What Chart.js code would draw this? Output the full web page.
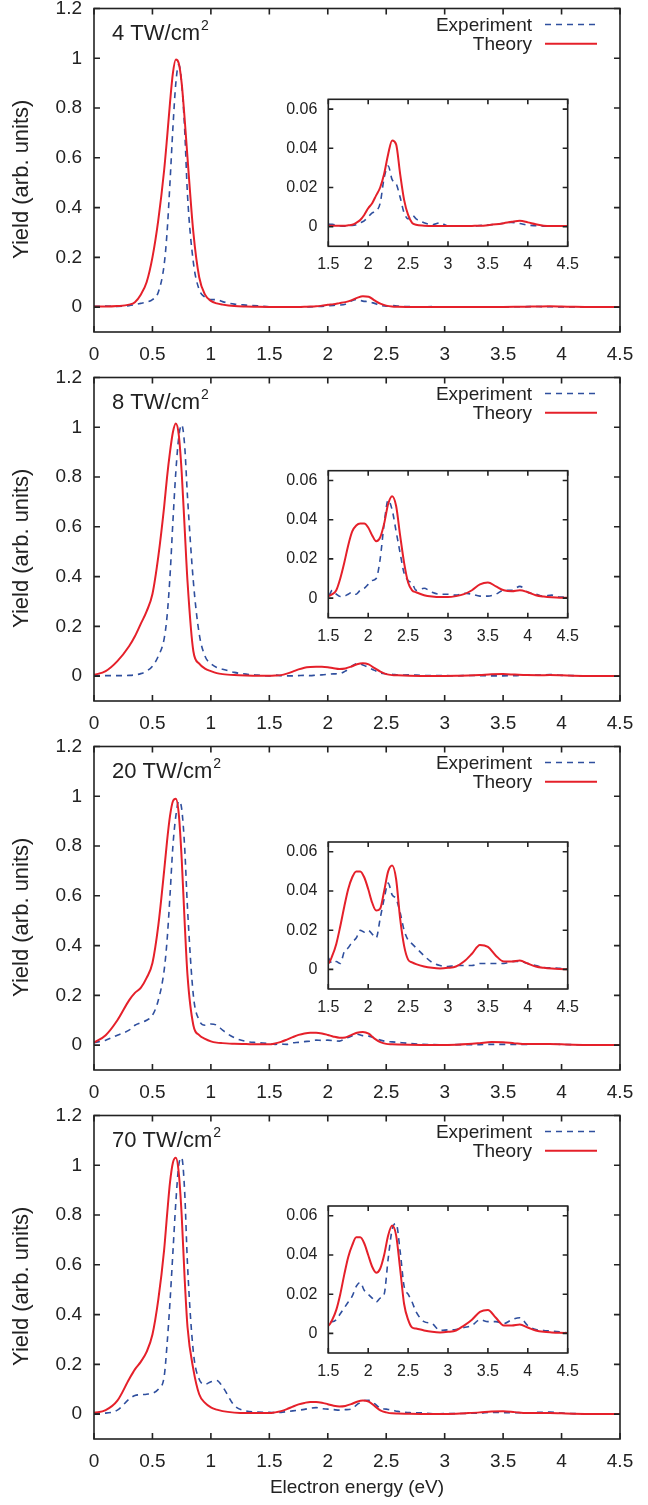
<!DOCTYPE html>
<html>
<head>
<meta charset="utf-8">
<script src="https://cdn.jsdelivr.net/npm/chart.js@4.4.0/dist/chart.umd.min.js"></script>
<style>
  html, body { margin: 0; padding: 0; background: #fff; }
  #wrap { position: relative; width: 648px; height: 1505px; overflow: hidden; background: #fff; }
  #wrap canvas { position: absolute; }
</style>
</head>
<body>
<div id="wrap"></div>
<script>
// ---- data ----
var ENERGY = [
  0, 0.1, 0.2, 0.3, 0.35, 0.4, 0.45, 0.5, 0.55, 0.6,
  0.625, 0.65, 0.675, 0.7, 0.725, 0.75, 0.775, 0.8,
  0.85, 0.9, 0.95, 1.0, 1.05, 1.1,
  1.2, 1.3, 1.4,
  1.5, 1.55, 1.6, 1.65, 1.7, 1.75, 1.8, 1.85, 1.9, 1.95, 2.0, 2.05, 2.1, 2.15, 2.2, 2.25, 2.3, 2.35, 2.4, 2.45, 2.5, 2.55, 2.6,
  2.7, 2.8, 2.9, 3.0, 3.1, 3.2, 3.3, 3.4, 3.5, 3.6, 3.7, 3.8, 3.9, 4.0, 4.1, 4.2, 4.3, 4.4, 4.5
];

var THEORY_4 = [
  0.002, 0.002, 0.004, 0.01, 0.02, 0.05, 0.1, 0.2, 0.35, 0.55,
  0.68, 0.82, 0.94, 0.995, 0.98, 0.9, 0.76, 0.6,
  0.3, 0.12, 0.05, 0.025, 0.015, 0.01,
  0.004, 0.002, 0.001,
  0.0005, 0.0005, 0.0005, 0.0005, 0.0005, 0.0007, 0.001, 0.002, 0.0034, 0.006, 0.0094, 0.012, 0.016, 0.02, 0.027, 0.037, 0.044, 0.042, 0.027, 0.0137, 0.006, 0.002, 0.001,
  0.0005, 0.0003, 0.0003, 0.0003, 0.0003, 0.0003, 0.0004, 0.0005, 0.0008, 0.0012, 0.0018, 0.0025, 0.003, 0.0022, 0.0012, 0.0005, 0.0004, 0.0004, 0.0004
];
var EXP_4 = [
  0.003, 0.004, 0.003, 0.006, 0.01, 0.015, 0.02, 0.03, 0.06, 0.17,
  0.3, 0.5, 0.72, 0.9, 0.975, 0.9, 0.72, 0.45,
  0.18, 0.07, 0.04, 0.03, 0.03, 0.022,
  0.012, 0.008, 0.005,
  0.0015, 0.0012, 0.0008, 0.0004, 0.0003, 0.0008, 0.0006, 0.001, 0.002, 0.003, 0.005, 0.007, 0.008, 0.012, 0.025, 0.031, 0.024, 0.022, 0.015, 0.007, 0.004, 0.006, 0.004,
  0.002, 0.001, 0.002, 0.0003, 0.0002, 0.0002, 0.0003, 0.0006, 0.0009, 0.0012, 0.0018, 0.0022, 0.0016, 0.0008, 0.0005, 0.0003, 0.0002, 0.0002, 0.0002
];

var THEORY_8 = [
  0.005, 0.02, 0.06, 0.12, 0.16, 0.21, 0.26, 0.33, 0.48, 0.68,
  0.8, 0.9, 0.98, 1.015, 0.97, 0.82, 0.6, 0.38,
  0.1, 0.05, 0.03, 0.02, 0.012, 0.008,
  0.004, 0.002, 0.001,
  0.001, 0.002, 0.004, 0.01, 0.018, 0.027, 0.034, 0.037, 0.038, 0.038, 0.036, 0.032, 0.029, 0.031, 0.038, 0.048, 0.052, 0.047, 0.032, 0.018, 0.008, 0.004, 0.003,
  0.0015, 0.0008, 0.0005, 0.0005, 0.001, 0.002, 0.004, 0.007, 0.008, 0.006, 0.004, 0.0035, 0.004, 0.003, 0.0015, 0.0008, 0.0004, 0.0002, 0.0002
];
var EXP_8 = [
  0.003, 0.002, 0.002, 0.003, 0.005, 0.01, 0.02, 0.04, 0.08, 0.15,
  0.24, 0.4, 0.62, 0.82, 0.96, 1.01, 0.93, 0.72,
  0.38, 0.17, 0.08, 0.05, 0.035, 0.028,
  0.015, 0.008, 0.004,
  0.001, 0.004, 0.002, 0.0008, 0.001, 0.002, 0.003, 0.002, 0.004, 0.005, 0.007, 0.009, 0.01, 0.02, 0.038, 0.05, 0.045, 0.034, 0.023, 0.0127, 0.009, 0.0076, 0.004,
  0.005, 0.003, 0.002, 0.002, 0.0015, 0.0025, 0.002, 0.001, 0.001, 0.002, 0.004, 0.004, 0.006, 0.003, 0.002, 0.001, 0.0015, 0.0005, 0.0005
];

var THEORY_20 = [
  0.01, 0.04, 0.1, 0.18, 0.21, 0.23, 0.27, 0.33, 0.48, 0.7,
  0.82, 0.92, 0.98, 0.99, 0.93, 0.75, 0.5, 0.28,
  0.08, 0.04, 0.025, 0.015, 0.01, 0.008,
  0.005, 0.004, 0.003,
  0.003, 0.007, 0.013, 0.022, 0.032, 0.041, 0.047, 0.05, 0.05, 0.047, 0.041, 0.034, 0.03, 0.031, 0.04, 0.05, 0.053, 0.046, 0.026, 0.012, 0.005, 0.0036, 0.0027,
  0.0015, 0.0008, 0.0005, 0.0008, 0.0015, 0.004, 0.008, 0.0125, 0.0115, 0.007, 0.004, 0.004, 0.0045, 0.003, 0.0015, 0.0008, 0.0004, 0.0002, 0.0001
];
var EXP_20 = [
  0.01, 0.02, 0.04, 0.06, 0.08, 0.09, 0.1, 0.12, 0.18, 0.3,
  0.42, 0.6, 0.8, 0.92, 0.98, 0.95, 0.8, 0.55,
  0.2, 0.1, 0.08, 0.085, 0.08, 0.06,
  0.03, 0.015, 0.01,
  0.006, 0.003, 0.004, 0.003, 0.009, 0.011, 0.014, 0.016, 0.02, 0.019, 0.02, 0.018, 0.016, 0.026, 0.036, 0.044, 0.038, 0.036, 0.029, 0.02, 0.015, 0.013, 0.011,
  0.007, 0.0036, 0.002, 0.0015, 0.002, 0.002, 0.002, 0.003, 0.003, 0.003, 0.003, 0.004, 0.004, 0.003, 0.002, 0.001, 0.0008, 0.0005, 0.0003
];

var THEORY_70 = [
  0.005, 0.016, 0.054, 0.14, 0.18, 0.21, 0.25, 0.32, 0.46, 0.66,
  0.8, 0.93, 1.01, 1.03, 0.97, 0.8, 0.55, 0.35,
  0.18, 0.08, 0.045, 0.027, 0.018, 0.012,
  0.006, 0.004, 0.004,
  0.004, 0.007, 0.012, 0.02, 0.03, 0.039, 0.045, 0.049, 0.049, 0.046, 0.04, 0.034, 0.031, 0.033, 0.04, 0.05, 0.055, 0.05, 0.033, 0.015, 0.007, 0.003, 0.0025,
  0.0015, 0.0008, 0.0005, 0.0008, 0.0015, 0.004, 0.007, 0.011, 0.012, 0.008, 0.004, 0.004, 0.0045, 0.003, 0.0015, 0.0008, 0.0005, 0.0003, 0.0002
];
var EXP_70 = [
  0.003, 0.004, 0.016, 0.06, 0.075, 0.078, 0.08, 0.084, 0.1, 0.15,
  0.28, 0.45, 0.65, 0.85, 1.0, 1.03, 0.9, 0.6,
  0.25, 0.14, 0.12, 0.13, 0.135, 0.11,
  0.035, 0.013, 0.008,
  0.007, 0.006, 0.007, 0.01, 0.013, 0.016, 0.019, 0.024, 0.026, 0.022, 0.02, 0.018, 0.016, 0.018, 0.02, 0.038, 0.053, 0.056, 0.042, 0.024, 0.02, 0.016, 0.011,
  0.006, 0.005, 0.0015, 0.0018, 0.002, 0.003, 0.004, 0.007, 0.006, 0.006, 0.005, 0.007, 0.008, 0.004, 0.002, 0.0015, 0.0012, 0.0008, 0.0003
];

var INTENSITIES = ['4', '8', '20', '70'];
var EXPERIMENT = [EXP_4, EXP_8, EXP_20, EXP_70];
var THEORY = [THEORY_4, THEORY_8, THEORY_20, THEORY_70];

var MAIN_X_TICKS = [0, 0.5, 1, 1.5, 2, 2.5, 3, 3.5, 4, 4.5];
var MAIN_X_LABELS = ['0', '0.5', '1', '1.5', '2', '2.5', '3', '3.5', '4', '4.5'];
var MAIN_Y_TICKS = [0, 0.2, 0.4, 0.6, 0.8, 1, 1.2];
var MAIN_Y_LABELS = ['0', '0.2', '0.4', '0.6', '0.8', '1', '1.2'];
var INSET_X_TICKS = [1.5, 2, 2.5, 3, 3.5, 4, 4.5];
var INSET_X_LABELS = ['1.5', '2', '2.5', '3', '3.5', '4', '4.5'];
var INSET_Y_TICKS = [0, 0.02, 0.04, 0.06];
var INSET_Y_LABELS = ['0', '0.02', '0.04', '0.06'];

// ---- layout ----
var RED = '#e5202a';
var BLUE = '#2f4f9e';
var INK = '#222';
var FONT = '"Liberation Sans", Arial, Helvetica, sans-serif';

var PANEL_TOP = [8.5, 377.5, 746.5, 1115.5];
var PLOT_L = 94, PLOT_R = 620, PLOT_H = 323.5;
var INSET_TOP = [99.3, 470.7, 842, 1206];
var INSET_L = 328.3, INSET_R = 567.7, INSET_H = 147;

Chart.defaults.font.family = FONT;
Chart.defaults.color = INK;

var wrap = document.getElementById('wrap');

function addCanvas(left, top, w, h) {
  var c = document.createElement('canvas');
  c.width = w; c.height = h;
  c.style.left = left + 'px'; c.style.top = top + 'px';
  c.style.width = w + 'px'; c.style.height = h + 'px';
  wrap.appendChild(c);
  return c;
}

function toPoints(ys) {
  return ENERGY.map(function (x, i) { return { x: x, y: ys[i] }; });
}

function seriesSets(exp, th) {
  return [
    { label: 'Experiment', data: toPoints(exp), borderColor: BLUE, borderWidth: 1.6, borderDash: [6, 5],
      pointRadius: 0, cubicInterpolationMode: 'monotone', fill: false, order: 1 },
    { label: 'Theory', data: toPoints(th), borderColor: RED, borderWidth: 2, pointRadius: 0,
      cubicInterpolationMode: 'monotone', fill: false, order: 0 }
  ];
}

function fixedTicks(values) {
  return function (s) { s.ticks = values.map(function (v) { return { value: v }; }); };
}

// gnuplot-like frame with inward ticks on all four sides
var frameTicks = {
  id: 'frameTicks',
  afterDatasetsDraw: function (chart, args, opts) {
    var ctx = chart.ctx, a = chart.chartArea, xs = chart.scales.x, ys = chart.scales.y, len = opts.len;
    ctx.save();
    ctx.strokeStyle = INK;
    ctx.lineWidth = opts.width;
    ctx.beginPath();
    xs.ticks.forEach(function (t) {
      var px = xs.getPixelForValue(t.value);
      ctx.moveTo(px, a.bottom); ctx.lineTo(px, a.bottom - len);
      ctx.moveTo(px, a.top); ctx.lineTo(px, a.top + len);
    });
    ys.ticks.forEach(function (t) {
      var py = ys.getPixelForValue(t.value);
      ctx.moveTo(a.left, py); ctx.lineTo(a.left + len, py);
      ctx.moveTo(a.right, py); ctx.lineTo(a.right - len, py);
    });
    ctx.stroke();
    ctx.strokeRect(a.left, a.top, a.right - a.left, a.bottom - a.top);
    ctx.restore();
  }
};

// key, intensity note and the rotated y title
var panelNotes = {
  id: 'panelNotes',
  afterDraw: function (chart, args, opts) {
    var ctx = chart.ctx, a = chart.chartArea;
    ctx.save();
    ctx.fillStyle = INK;
    ctx.font = '19px ' + FONT;
    ctx.textAlign = 'right';
    ctx.textBaseline = 'middle';
    chart.data.datasets.forEach(function (ds, i) {
      var y = a.top + 16 + i * 19.3;
      ctx.fillText(ds.label, a.left + 438, y + 1);
      ctx.strokeStyle = ds.borderColor;
      ctx.lineWidth = ds.borderWidth;
      ctx.setLineDash(ds.borderDash || []);
      ctx.beginPath();
      ctx.moveTo(a.left + 451, y); ctx.lineTo(a.left + 503, y);
      ctx.stroke();
    });
    ctx.setLineDash([]);
    ctx.textAlign = 'left';
    ctx.textBaseline = 'alphabetic';
    ctx.font = '22px ' + FONT;
    var base = a.top + 31, txt = opts.intensity + ' TW/cm';
    ctx.fillText(txt, a.left + 18, base);
    var w = ctx.measureText(txt).width;
    ctx.font = '14px ' + FONT;
    ctx.fillText('2', a.left + 18 + w + 1, base - 10);

    ctx.translate(22, (a.top + a.bottom) / 2 + 9);
    ctx.rotate(-Math.PI / 2);
    ctx.textAlign = 'center';
    ctx.textBaseline = 'middle';
    ctx.font = '22px ' + FONT;
    ctx.fillText(opts.yTitle, 0, 0);
    ctx.restore();
  }
};

function buildMain(p) {
  var T = PANEL_TOP[p];
  var cTop = Math.floor(T) - 26;
  var padTop = T - cTop;
  var last = p === 3;
  var cH = last ? 1505 - cTop : 382;
  var xAxisH = cH - padTop - PLOT_H;
  var canvas = addCanvas(0, cTop, 648, cH);
  return new Chart(canvas, {
    type: 'line',
    data: { datasets: seriesSets(EXPERIMENT[p], THEORY[p]) },
    plugins: [frameTicks, panelNotes],
    options: {
      responsive: false,
      animation: false,
      events: [],
      layout: { padding: { top: padTop, right: 648 - PLOT_R, left: 0, bottom: 0 } },
      plugins: {
        legend: { display: false },
        tooltip: { enabled: false },
        frameTicks: { len: 6, width: 1.6 },
        panelNotes: { intensity: INTENSITIES[p], yTitle: 'Yield (arb. units)' }
      },
      scales: {
        x: {
          type: 'linear', min: 0, max: 4.5,
          grid: { display: false, drawTicks: false }, border: { display: false },
          afterBuildTicks: fixedTicks(MAIN_X_TICKS),
          afterFit: function (s) { s.height = xAxisH; },
          ticks: {
            padding: 11, autoSkip: false, maxRotation: 0, font: { size: 19 },
            callback: function (v, i) { return MAIN_X_LABELS[i]; }
          },
          title: {
            display: last, text: 'Electron energy (eV)', font: { size: 19 },
            padding: { top: 0, bottom: 5.6 }
          }
        },
        y: {
          type: 'linear', min: -0.1, max: 1.2,
          grid: { display: false, drawTicks: false }, border: { display: false },
          afterBuildTicks: fixedTicks(MAIN_Y_TICKS),
          afterFit: function (s) { s.width = PLOT_L; },
          ticks: {
            padding: 12, font: { size: 19 },
            callback: function (v, i) { return MAIN_Y_LABELS[i]; }
          }
        }
      }
    }
  });
}

function buildInset(p) {
  var T = INSET_TOP[p];
  var cTop = Math.floor(T) - 24;
  var padTop = T - cTop;
  var cLeft = Math.floor(INSET_L) - 60;
  var yAxisW = INSET_L - cLeft;
  var cW = Math.ceil(INSET_R) + 26 - cLeft;
  var cH = 210;
  var xAxisH = cH - padTop - INSET_H;
  var canvas = addCanvas(cLeft, cTop, cW, cH);
  return new Chart(canvas, {
    type: 'line',
    data: { datasets: seriesSets(EXPERIMENT[p], THEORY[p]) },
    plugins: [frameTicks],
    options: {
      responsive: false,
      animation: false,
      events: [],
      layout: { padding: { top: padTop, right: cW - (INSET_R - cLeft), left: 0, bottom: 0 } },
      plugins: {
        legend: { display: false },
        tooltip: { enabled: false },
        frameTicks: { len: 5, width: 1.6 }
      },
      scales: {
        x: {
          type: 'linear', min: 1.5, max: 4.5,
          grid: { display: false, drawTicks: false }, border: { display: false },
          afterBuildTicks: fixedTicks(INSET_X_TICKS),
          afterFit: function (s) { s.height = xAxisH; },
          ticks: {
            padding: 9, autoSkip: false, maxRotation: 0, font: { size: 16 },
            callback: function (v, i) { return INSET_X_LABELS[i]; }
          }
        },
        y: {
          type: 'linear', min: -0.01, max: 0.065,
          grid: { display: false, drawTicks: false }, border: { display: false },
          afterBuildTicks: fixedTicks(INSET_Y_TICKS),
          afterFit: function (s) { s.width = yAxisW; },
          ticks: {
            padding: 11, font: { size: 16 },
            callback: function (v, i) { return INSET_Y_LABELS[i]; }
          }
        }
      }
    }
  });
}

for (var p = 0; p < 4; p++) {
  buildMain(p);
  buildInset(p);
}
</script>
</body>
</html>
